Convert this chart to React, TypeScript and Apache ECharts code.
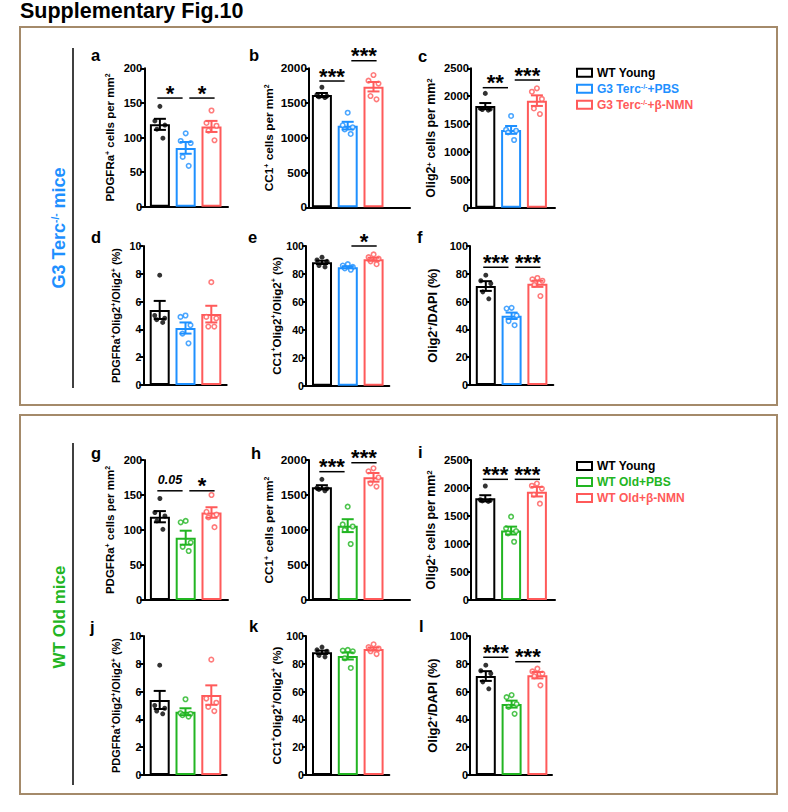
import React, { useEffect, useRef } from "react";
import * as echarts from "echarts";

const FONT = '"Liberation Sans", Arial, Helvetica, sans-serif';
const BLACK = "#000000";
const BLUE = "#1e90ff";
const RED = "#ff5a5a";
const GREEN = "#22b522";
const BOX = "#a48a6a";

// ---------- groups ----------
const GROUPS_G3 = ["WT Young", "G3 Terc-/-+PBS", "G3 Terc-/-+β-NMN"];
const GROUPS_OLD = ["WT Young", "WT Old+PBS", "WT Old+β-NMN"];
const COLORS_G3 = [BLACK, BLUE, RED];
const COLORS_OLD = [BLACK, GREEN, RED];

// ---------- tick labels ----------
const TICKS_200 = [0, 50, 100, 150, 200];
const TICKS_2000 = [0, 500, 1000, 1500, 2000];
const TICKS_2500 = [0, 500, 1000, 1500, 2000, 2500];
const TICKS_10 = [0, 2, 4, 6, 8, 10];
const TICKS_100 = [0, 20, 40, 60, 80, 100];

// ---------- data: G3 Terc-/- mice ----------
const A_MEAN = [119, 85, 116];
const A_SEM = [8, 8.5, 8];
const A_DOTS = [[145, 124, 118, 112, 99], [106, 95, 92, 72, 59], [139, 121, 117, 110, 96]];
const A_SIG = [{ pair: [0, 1], y: 157, label: "*" }, { pair: [1, 2], y: 157, label: "*" }];

const B_MEAN = [1615, 1175, 1735];
const B_SEM = [30, 55, 68];
const B_DOTS = [[1727, 1620, 1600, 1590, 1580], [1361, 1180, 1151, 1120, 1055], [1903, 1822, 1780, 1601, 1554]];
const B_SIG = [{ pair: [0, 1], y: 1817, label: "***" }, { pair: [1, 2], y: 2109, label: "***" }];

const C_MEAN = [1822, 1395, 1920];
const C_SEM = [55, 70, 95];
const C_DOTS = [[2050, 1780, 1770, 1760, 1750], [1645, 1400, 1380, 1350, 1214], [2141, 2080, 1950, 1780, 1680]];
const C_SIG = [{ pair: [0, 1], y: 2152, label: "**" }, { pair: [1, 2], y: 2290, label: "***" }];

const D_MEAN = [5.4, 4.1, 5.1];
const D_SEM = [0.65, 0.4, 0.6];
const D_DOTS = [[7.9, 5.0, 4.8, 4.7, 4.5], [5.0, 4.9, 4.3, 3.7, 3.0], [7.4, 4.9, 4.8, 4.2, 4.2]];
const D_SIG: { pair: number[]; y: number; label: string }[] = [];

const E_MEAN = [88.3, 84.8, 90.5];
const E_SEM = [1.2, 0.7, 1.1];
const E_DOTS = [[92, 90, 89, 86, 85], [87, 86, 85, 84, 83], [94, 92, 91, 89, 87]];
const E_SIG = [{ pair: [1, 2], y: 100, label: "*" }];

const F_MEAN = [71.2, 49.8, 72.8];
const F_SEM = [3.5, 2.3, 2.2];
const F_DOTS = [[79, 75, 73, 67, 62], [55.5, 55, 50, 46, 43], [77, 76, 75, 72, 64]];
const F_SIG = [{ pair: [0, 1], y: 84.7, label: "***" }, { pair: [1, 2], y: 84.7, label: "***" }];

// ---------- data: WT Old mice ----------
const G_MEAN = [119, 89, 125];
const G_SEM = [8, 10, 7.5];
const G_DOTS = [[145, 125, 120, 113, 101], [113, 111, 82, 76, 70], [150, 126, 122, 118, 104]];
const G_SIG = [{ pair: [0, 1], y: 156, label: "0.05" }, { pair: [1, 2], y: 156, label: "*" }];

const H_MEAN = [1610, 1062, 1752];
const H_SEM = [30, 92, 62];
const H_DOTS = [[1724, 1600, 1590, 1580, 1560], [1333, 1080, 1050, 1000, 800], [1881, 1838, 1750, 1667, 1620]];
const H_SIG = [{ pair: [0, 1], y: 1833, label: "***" }, { pair: [1, 2], y: 1961, label: "***" }];

const I_MEAN = [1816, 1240, 1934];
const I_SEM = [55, 70, 85];
const I_DOTS = [[2036, 1790, 1780, 1770, 1760], [1488, 1280, 1230, 1190, 1040], [2080, 2040, 1990, 1880, 1720]];
const I_SIG = [{ pair: [0, 1], y: 2155, label: "***" }, { pair: [1, 2], y: 2155, label: "***" }];

const J_MEAN = [5.4, 4.55, 5.75];
const J_SEM = [0.65, 0.25, 0.7];
const J_DOTS = [[7.9, 5.0, 4.8, 4.6, 4.4], [5.45, 4.45, 4.4, 4.3, 4.2], [8.3, 5.5, 5.2, 4.9, 4.6]];
const J_SIG: { pair: number[]; y: number; label: string }[] = [];

const K_MEAN = [88.3, 85.6, 90.6];
const K_SEM = [1.2, 2.5, 1.1];
const K_DOTS = [[92, 90, 89, 86, 85], [90, 89.5, 89, 84, 77], [94, 92, 91, 89, 87]];
const K_SIG: { pair: number[]; y: number; label: string }[] = [];

const L_MEAN = [71.2, 51, 71.8];
const L_SEM = [3.5, 2.5, 2.3];
const L_DOTS = [[79, 75, 73, 67, 62], [57.5, 56, 51, 49, 44], [76.5, 74.5, 73, 71, 64.5]];
const L_SIG = [{ pair: [0, 1], y: 84.7, label: "***" }, { pair: [1, 2], y: 81.5, label: "***" }];

// ---------- axis titles (rich text) ----------
const NAME_PDGFRA = "{n|PDGFRa}{s|+}{n| cells per mm}{s|2}";
const NAME_CC1 = "{n|CC1}{s|+}{n| cells per mm}{s|2}";
const NAME_OLIG2 = "{n|Olig2}{s|+}{n| cells per mm}{s|2}";
const NAME_PDGFRA_PCT = "{n|PDGFRa}{s|+}{n|Olig2}{s|+}{n|/Olig2}{s|+}{n| (%)}";
const NAME_CC1_PCT = "{n|CC1}{s|+}{n|Olig2}{s|+}{n|/Olig2}{s|+}{n| (%)}";
const NAME_DAPI_PCT = "{n|Olig2}{s|+}{n|/DAPI (%)}";

// ---------- layout (style only) ----------
const SPACING = 25.8;
const BAR_W = 20;
const JITTER = [0, -5, 5, -3, 3];
const SIG_OFFSET: Record<string, number[]> = { "0-1": [-0.1, -0.12], "1-2": [0.14, 0.12] };

type Sig = { pair: number[]; y: number; label: string };
type Panel = {
  letter: string; mean: number[]; sem: number[]; dots: number[][];
  sig: Sig[]; ticks: number[]; name: string;
  groups: string[]; colors: string[];
  axisX: number; axisEnd: number; c0: number; top: number; bottom: number; nameGap: number;
  nameSize: number; tickSize: number; lx: number; ly: number;
};

const COL_A = { axisX: 144.3, axisEnd: 228, c0: 159.9, nameGap: 28, nameSize: 11.5, tickSize: 11.2 };
const COL_B = { axisX: 309, axisEnd: 410, c0: 321.9, nameGap: 34, nameSize: 11.8, tickSize: 11.8 };
const COL_C = { axisX: 471, axisEnd: 555, c0: 485.3, nameGap: 34, nameSize: 12.4, tickSize: 11.2 };
const COL_D = { axisX: 143.3, axisEnd: 226.7, c0: 159.7, nameGap: 22, nameSize: 11, tickSize: 10.6 };
const COL_E = { axisX: 306, axisEnd: 389.3, c0: 322, nameGap: 24, nameSize: 11.6, tickSize: 10.6 };
const COL_F = { axisX: 470, axisEnd: 553.3, c0: 485.8, nameGap: 31, nameSize: 12.8, tickSize: 11 };

const PANELS: Panel[] = [
  { letter: "a", mean: A_MEAN, sem: A_SEM, dots: A_DOTS, sig: A_SIG, ticks: TICKS_200, name: NAME_PDGFRA, groups: GROUPS_G3, colors: COLORS_G3, ...COL_A, top: 68.3, bottom: 206.7, lx: 91, ly: 60.5 },
  { letter: "b", mean: B_MEAN, sem: B_SEM, dots: B_DOTS, sig: B_SIG, ticks: TICKS_2000, name: NAME_CC1, groups: GROUPS_G3, colors: COLORS_G3, ...COL_B, top: 68.3, bottom: 207.3, lx: 249, ly: 60.5 },
  { letter: "c", mean: C_MEAN, sem: C_SEM, dots: C_DOTS, sig: C_SIG, ticks: TICKS_2500, name: NAME_OLIG2, groups: GROUPS_G3, colors: COLORS_G3, ...COL_C, top: 68.3, bottom: 207.7, lx: 418, ly: 61.5 },
  { letter: "d", mean: D_MEAN, sem: D_SEM, dots: D_DOTS, sig: D_SIG, ticks: TICKS_10, name: NAME_PDGFRA_PCT, groups: GROUPS_G3, colors: COLORS_G3, ...COL_D, top: 246, bottom: 385, lx: 91, ly: 243 },
  { letter: "e", mean: E_MEAN, sem: E_SEM, dots: E_DOTS, sig: E_SIG, ticks: TICKS_100, name: NAME_CC1_PCT, groups: GROUPS_G3, colors: COLORS_G3, ...COL_E, top: 246, bottom: 385.7, lx: 248, ly: 242.7 },
  { letter: "f", mean: F_MEAN, sem: F_SEM, dots: F_DOTS, sig: F_SIG, ticks: TICKS_100, name: NAME_DAPI_PCT, groups: GROUPS_G3, colors: COLORS_G3, ...COL_F, top: 246, bottom: 385, lx: 417, ly: 242.7 },
  { letter: "g", mean: G_MEAN, sem: G_SEM, dots: G_DOTS, sig: G_SIG, ticks: TICKS_200, name: NAME_PDGFRA, groups: GROUPS_OLD, colors: COLORS_OLD, ...COL_A, top: 460, bottom: 600, lx: 91, ly: 458.3 },
  { letter: "h", mean: H_MEAN, sem: H_SEM, dots: H_DOTS, sig: H_SIG, ticks: TICKS_2000, name: NAME_CC1, groups: GROUPS_OLD, colors: COLORS_OLD, ...COL_B, top: 460, bottom: 600, lx: 251, ly: 458.3 },
  { letter: "i", mean: I_MEAN, sem: I_SEM, dots: I_DOTS, sig: I_SIG, ticks: TICKS_2500, name: NAME_OLIG2, groups: GROUPS_OLD, colors: COLORS_OLD, ...COL_C, top: 460, bottom: 600, lx: 418, ly: 457.3 },
  { letter: "j", mean: J_MEAN, sem: J_SEM, dots: J_DOTS, sig: J_SIG, ticks: TICKS_10, name: NAME_PDGFRA_PCT, groups: GROUPS_OLD, colors: COLORS_OLD, ...COL_D, top: 636, bottom: 775, lx: 90, ly: 632.5 },
  { letter: "k", mean: K_MEAN, sem: K_SEM, dots: K_DOTS, sig: K_SIG, ticks: TICKS_100, name: NAME_CC1_PCT, groups: GROUPS_OLD, colors: COLORS_OLD, ...COL_E, top: 636, bottom: 775, lx: 249, ly: 631.7 },
  { letter: "l", mean: L_MEAN, sem: L_SEM, dots: L_DOTS, sig: L_SIG, ticks: TICKS_100, name: NAME_DAPI_PCT, groups: GROUPS_OLD, colors: COLORS_OLD, ...COL_F, axisEnd: 552, top: 636, bottom: 775, lx: 419, ly: 631.7 },
];

function legendFor(groups: string[], colors: string[], top: number) {
  const rich: Record<string, any> = {};
  colors.forEach((c, k) => {
    rich["n" + k] = { fontSize: 12, fontWeight: "bold", fontFamily: FONT, color: c };
    rich["s" + k] = { fontSize: 7, fontWeight: "bold", fontFamily: FONT, color: c, verticalAlign: "top" };
  });
  return {
    left: 576,
    top,
    orient: "vertical",
    icon: "rect",
    itemWidth: 15,
    itemHeight: 8,
    itemGap: 4,
    selectedMode: false,
    padding: 0,
    data: groups.map((n, k) => ({
      name: n,
      itemStyle: { color: "#ffffff", borderColor: colors[k], borderWidth: 2 },
      textStyle: { color: colors[k] },
    })),
    formatter: (name: string) => {
      const k = groups.indexOf(name);
      if (name.indexOf("-/-") >= 0) {
        const parts = name.split("-/-");
        return `{n${k}|${parts[0]}}{s${k}|-/-}{n${k}|${parts[1]}}`;
      }
      return `{n${k}|${name}}`;
    },
    textStyle: { fontFamily: FONT, fontWeight: "bold", fontSize: 12, rich },
  };
}

function buildOption() {
  const grid: any[] = [];
  const xAxis: any[] = [];
  const yAxis: any[] = [];
  const series: any[] = [];
  const graphic: any[] = [];

  PANELS.forEach((p, i) => {
    const xmin = -(p.c0 - p.axisX) / SPACING;
    const xmax = 2 + (p.axisEnd - p.c0 - 2 * SPACING) / SPACING;
    grid.push({ left: p.axisX, top: p.top, width: p.axisEnd - p.axisX, height: p.bottom - p.top, containLabel: false, outerBoundsMode: "none" });
    xAxis.push({
      type: "value", gridIndex: i, min: xmin, max: xmax,
      axisLine: { show: true, onZero: false, lineStyle: { color: BLACK, width: 2 } },
      axisTick: { show: false }, axisLabel: { show: false }, splitLine: { show: false },
    });
    const t = p.ticks;
    yAxis.push({
      type: "value", gridIndex: i, min: t[0], max: t[t.length - 1], interval: t[1] - t[0],
      axisLine: { show: true, onZero: false, lineStyle: { color: BLACK, width: 2 } },
      axisTick: { show: true, length: 4, lineStyle: { color: BLACK, width: 2 } },
      axisLabel: { fontFamily: FONT, fontWeight: "bold", fontSize: p.tickSize, color: BLACK, margin: 2, formatter: (v: number) => String(v) },
      splitLine: { show: false },
      name: p.name, nameLocation: "middle", nameGap: p.nameGap, nameMoveOverlap: false,
      nameTextStyle: {
        rich: {
          n: { fontSize: p.nameSize, fontWeight: "bold", fontFamily: FONT, color: BLACK },
          s: { fontSize: Math.round(p.nameSize * 0.62), fontWeight: "bold", fontFamily: FONT, color: BLACK, verticalAlign: "top" },
        },
      },
    });

    // bars
    p.groups.forEach((g, k) => {
      series.push({
        type: "bar", name: g, xAxisIndex: i, yAxisIndex: i,
        data: [[k, p.mean[k]]], barWidth: BAR_W, barGap: "-100%",
        itemStyle: { color: "#ffffff", borderColor: p.colors[k], borderWidth: 2 },
        emphasis: { disabled: true }, silent: true, z: 2,
      });
    });

    // dots
    p.dots.forEach((arr, k) => {
      series.push({
        type: "scatter", xAxisIndex: i, yAxisIndex: i, symbol: "circle",
        symbolSize: k === 0 ? 5 : 4.5,
        data: arr.map((v, j) => ({ value: [k, v], symbolOffset: [JITTER[j], 0] })),
        itemStyle: k === 0 ? { color: BLACK } : { color: "#ffffff", borderColor: p.colors[k], borderWidth: 1.6 },
        emphasis: { disabled: true }, silent: true, z: 3,
      });
    });

    // error bars (mean ± SEM)
    series.push({
      type: "custom", xAxisIndex: i, yAxisIndex: i, silent: true, z: 4,
      data: p.mean.map((m, k) => [k, m, p.sem[k]]),
      renderItem: (params: any, api: any) => {
        const x = api.value(0), m = api.value(1), s = api.value(2);
        const hi = api.coord([x, m + s]);
        const lo = api.coord([x, m - s]);
        const col = p.colors[params.dataIndex];
        const half = 6;
        const st = { stroke: col, lineWidth: 2 };
        return {
          type: "group",
          children: [
            { type: "line", shape: { x1: hi[0], y1: hi[1], x2: lo[0], y2: lo[1] }, style: st },
            { type: "line", shape: { x1: hi[0] - half, y1: hi[1], x2: hi[0] + half, y2: hi[1] }, style: st },
            { type: "line", shape: { x1: lo[0] - half, y1: lo[1], x2: lo[0] + half, y2: lo[1] }, style: st },
          ],
        };
      },
    });

    // significance
    if (p.sig.length) {
      series.push({
        type: "custom", xAxisIndex: i, yAxisIndex: i, silent: true, z: 5, clip: false,
        data: p.sig.map((s) => {
          const off = SIG_OFFSET[s.pair[0] + "-" + s.pair[1]];
          return [s.pair[0] + off[0], s.pair[1] + off[1], s.y];
        }),
        renderItem: (params: any, api: any) => {
          const a = api.coord([api.value(0), api.value(2)]);
          const b = api.coord([api.value(1), api.value(2)]);
          const label = p.sig[params.dataIndex].label;
          const isNum = label === "0.05";
          return {
            type: "group",
            children: [
              { type: "line", shape: { x1: a[0], y1: a[1], x2: b[0], y2: b[1] }, style: { stroke: BLACK, lineWidth: 1.5 } },
              {
                type: "text", x: (a[0] + b[0]) / 2, y: a[1] - (isNum ? 10.5 : 5),
                style: {
                  text: label, fill: BLACK, fontFamily: FONT, fontWeight: "bold",
                  fontStyle: isNum ? "italic" : "normal", fontSize: isNum ? 12.5 : 22,
                  align: "center", verticalAlign: "middle",
                },
              },
            ],
          };
        },
      });
    }

    // panel letter
    graphic.push({
      type: "text", x: p.lx, y: p.ly - 5.8,
      style: { text: p.letter, fill: BLACK, fontFamily: FONT, fontWeight: "bold", fontSize: 16.5, align: "left", verticalAlign: "middle" },
    });
  });

  // figure title
  graphic.push({
    type: "text", x: 20, y: 10.5,
    style: { text: "Supplementary Fig.10", fill: BLACK, fontFamily: FONT, fontWeight: "bold", fontSize: 21.5, align: "left", verticalAlign: "middle" },
  });
  // boxes
  graphic.push({ type: "rect", shape: { x: 20, y: 27, width: 757, height: 378 }, style: { fill: "none", stroke: BOX, lineWidth: 2 } });
  graphic.push({ type: "rect", shape: { x: 20, y: 415, width: 757, height: 379 }, style: { fill: "none", stroke: BOX, lineWidth: 2 } });
  // vertical separators
  graphic.push({ type: "line", shape: { x1: 73, y1: 48, x2: 73, y2: 388 }, style: { stroke: BLACK, lineWidth: 1.5 } });
  graphic.push({ type: "line", shape: { x1: 73, y1: 443, x2: 73, y2: 785 }, style: { stroke: BLACK, lineWidth: 1.5 } });
  // row titles
  graphic.push({
    type: "text", x: 59, y: 228, rotation: Math.PI / 2,
    style: {
      text: "{a|G3 Terc}{s|-/-}{a| mice}", align: "center", verticalAlign: "middle",
      rich: {
        a: { fontSize: 18, fontWeight: "bold", fontFamily: FONT, fill: BLUE, color: BLUE },
        s: { fontSize: 10, fontWeight: "bold", fontFamily: FONT, fill: BLUE, color: BLUE, verticalAlign: "top" },
      },
    },
  });
  graphic.push({
    type: "text", x: 59, y: 617, rotation: Math.PI / 2,
    style: { text: "WT Old mice", fill: GREEN, fontFamily: FONT, fontWeight: "bold", fontSize: 17, align: "center", verticalAlign: "middle" },
  });

  return {
    animation: false,
    backgroundColor: "#ffffff",
    grid, xAxis, yAxis, series, graphic,
    legend: [legendFor(GROUPS_G3, COLORS_G3, 66.7), legendFor(GROUPS_OLD, COLORS_OLD, 460)],
  };
}

export default function App() {
  const ref = useRef<HTMLDivElement>(null);
  useEffect(() => {
    if (!ref.current) return;
    const chart = echarts.init(ref.current, null, { renderer: "svg" });
    chart.setOption(buildOption() as any);
    return () => chart.dispose();
  }, []);
  return <div ref={ref} style={{ position: "absolute", left: 0, top: 0, width: 788, height: 812 }} />;
}
